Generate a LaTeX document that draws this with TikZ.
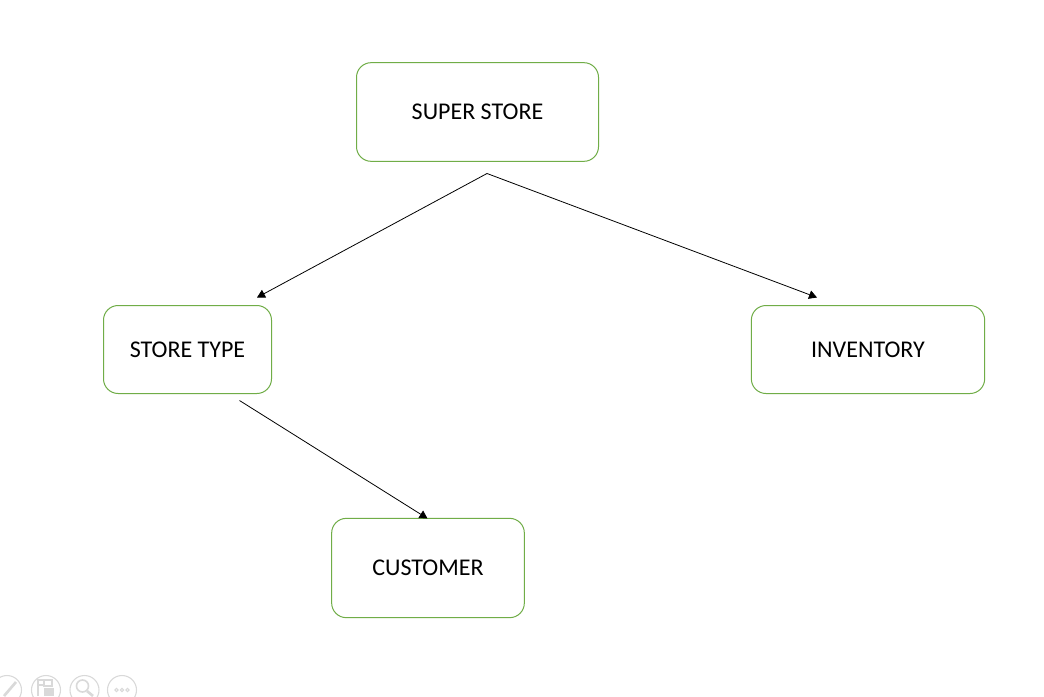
\documentclass[tikz,border=0pt]{standalone}
\usepackage{fontspec}
\setmainfont{Carlito}
\usetikzlibrary{arrows.meta}
\definecolor{boxgreen}{HTML}{70AD47}
\definecolor{icongray}{HTML}{D9D9D9}
\tikzset{
  px/.style={x=0.75pt,y=-0.75pt},
  entity/.style={draw=boxgreen,line width=0.75pt,rounded corners=11pt,fill=white,inner sep=0pt,font=\fontsize{18pt}{20pt}\selectfont,text=black},
  link/.style={draw=black,line width=0.6pt,-{Triangle[length=6pt,width=6.5pt]}},
  icon/.style={draw=icongray,line width=0.8pt},
  iconfill/.style={draw=icongray,line width=2pt}
}
\begin{document}
\begin{tikzpicture}[px]
\useasboundingbox (0,0) rectangle (1044,696);
\clip (0,0) rectangle (1044,696);
\fill[white] (0,0) rectangle (1044,696);
\node[entity,minimum width=181.5pt,minimum height=74pt] (super) at (477.5,112) {SUPER STORE};
\node[entity,minimum width=126pt,minimum height=66pt] (type) at (187.5,349.5) {STORE TYPE};
\node[entity,minimum width=175pt,minimum height=66pt] (inv) at (868,349.5) {INVENTORY};
\node[entity,minimum width=144.5pt,minimum height=74.5pt] (cust) at (428,568) {CUSTOMER};
\coordinate (apex) at (487,173.5);
\coordinate (typeout) at (239.5,400.5);
\draw[link] (apex) -- (257,297.5);
\draw[link] (apex) -- (817,297.5);
\draw[link] (typeout) -- (427.5,518.5);
% presentation toolbar icons
\draw[icon] (7,690) circle[radius=14.5];
\draw[icon] (46,690) circle[radius=14.5];
\draw[icon] (84.5,690) circle[radius=14.5];
\draw[icon] (122,690) circle[radius=14.5];
\draw[iconfill] (4,696) -- (16,682);
\draw[icon] (38,696) -- (38,685) -- (44,685) (44,680) rectangle (52,686) (38,680) rectangle (44,685);
\fill[icongray] (44,688) rectangle (54,696);
\draw[icon,line width=1.2pt] (82.5,686) circle[radius=6];
\draw[iconfill] (87,691) -- (93,696);
\draw[icon] (116.5,690) circle[radius=1.7] (122,690) circle[radius=1.7] (127.5,690) circle[radius=1.7];
\end{tikzpicture}
\end{document}
